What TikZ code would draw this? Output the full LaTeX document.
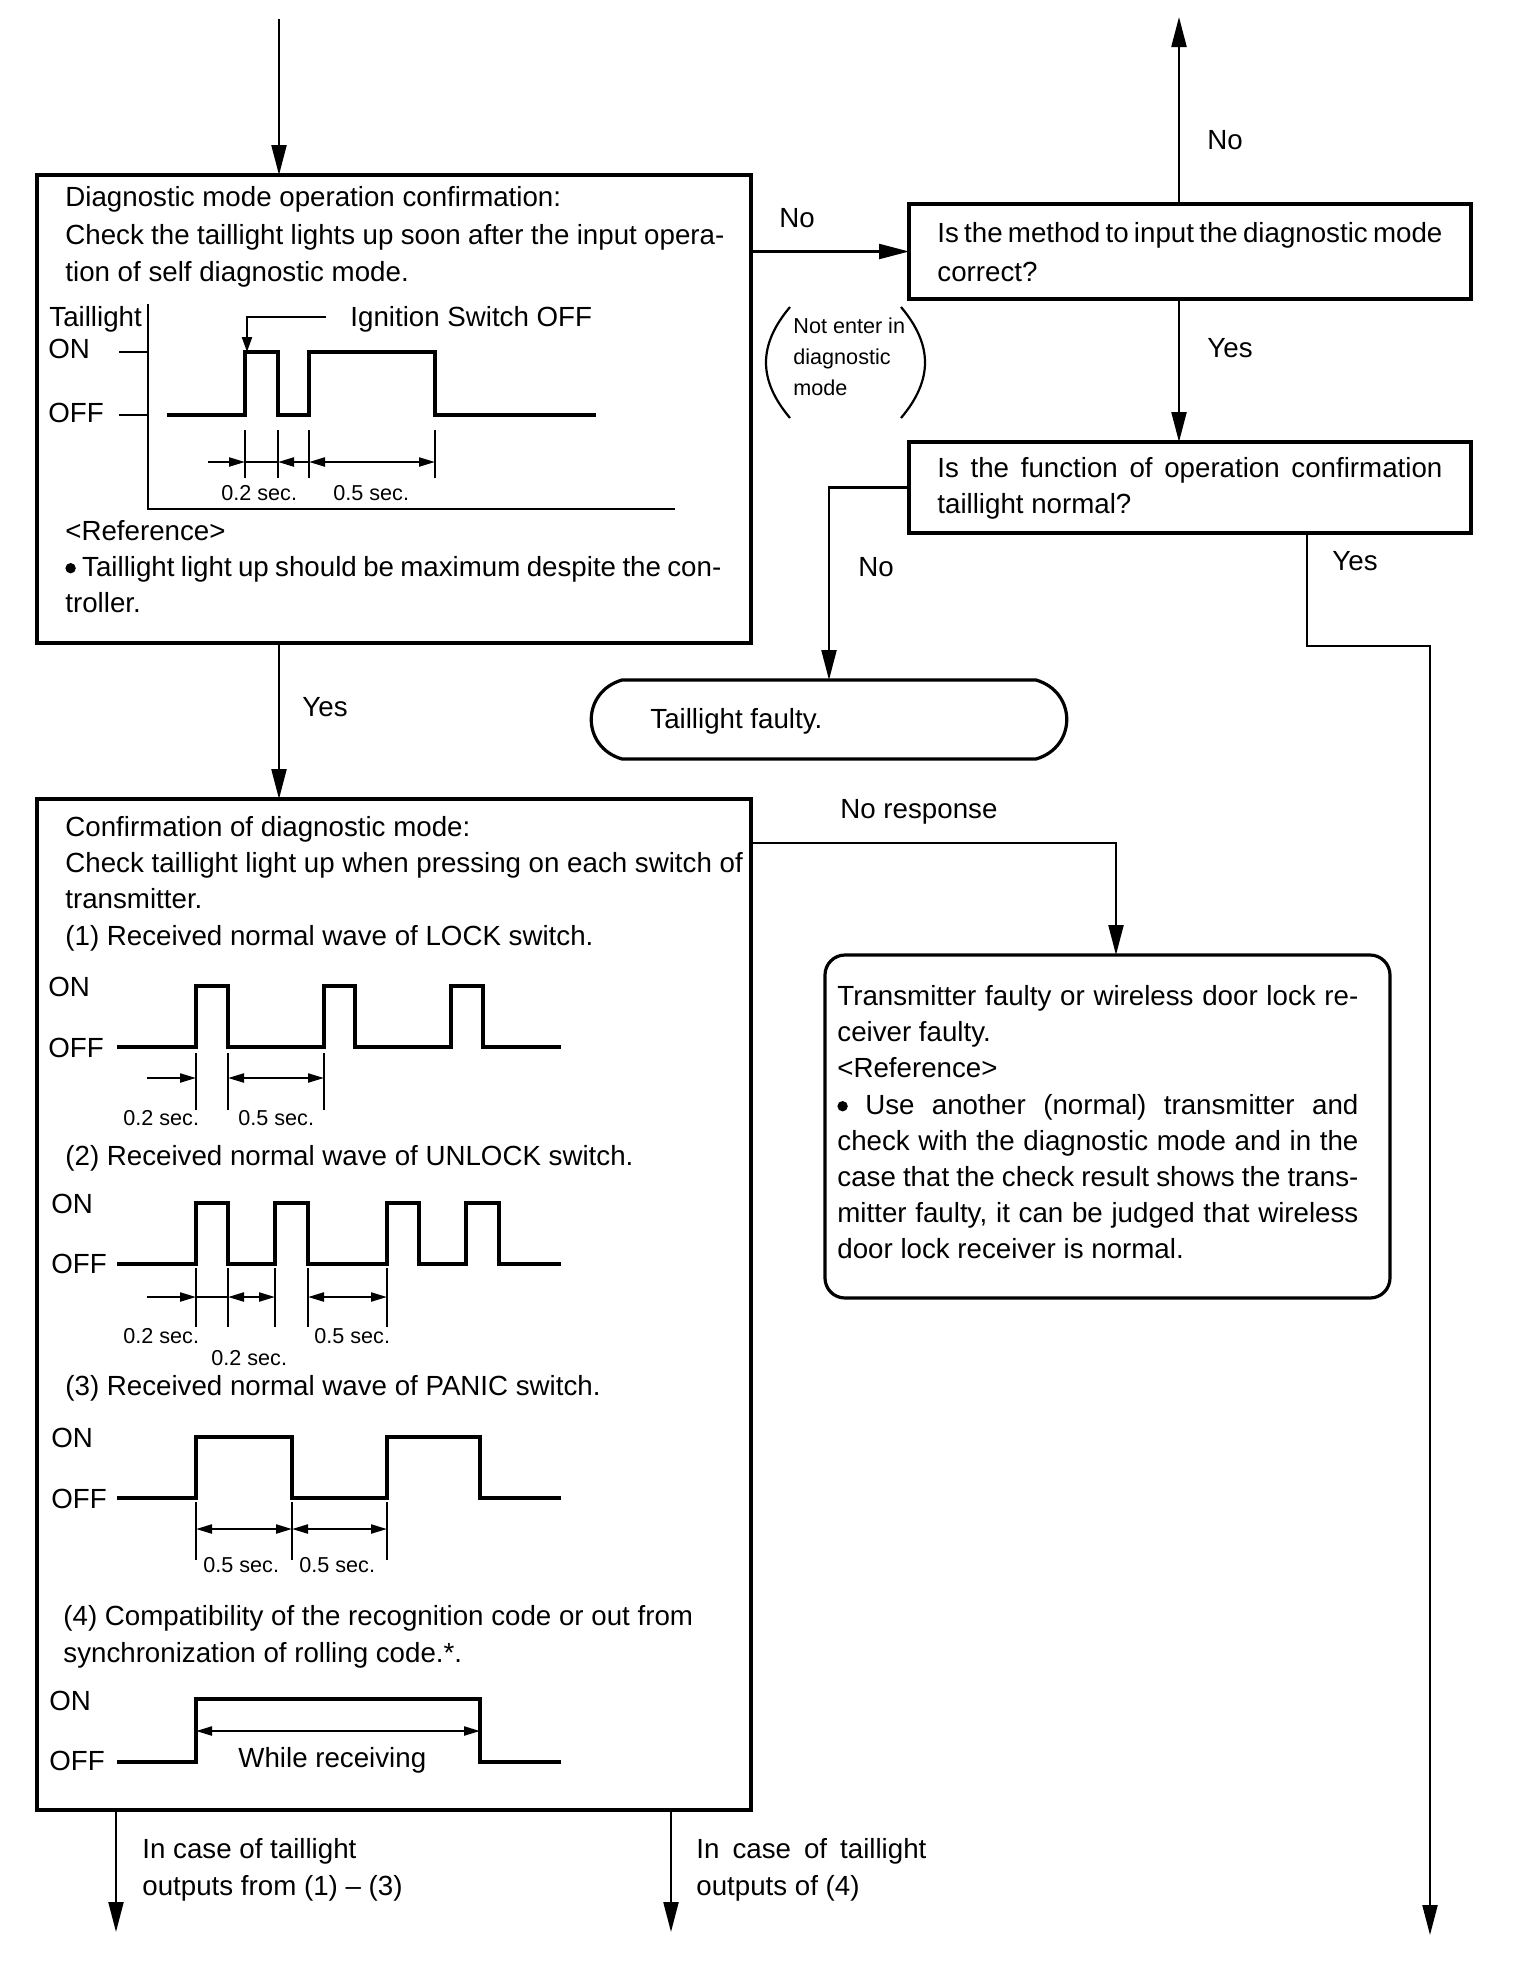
\documentclass[tikz,border=0pt]{standalone}
\usepackage{fontspec}
\setmainfont{Liberation Sans}
\usetikzlibrary{arrows.meta}
\newcommand\mybullet{\tikz[baseline=0pt]\fill (0pt,3.9pt) circle[radius=2.6pt];}
\begin{document}
\begin{tikzpicture}[x=0.5pt,y=-0.5pt,
  box/.style={draw, line width=1.6pt, inner sep=0pt, outer sep=0pt},
  conn/.style={line width=1.1pt, -{Triangle[length=15pt,width=7.5pt]}},
  wave/.style={line width=1.7pt},
  tk/.style={line width=1.1pt},
  dimr/.style={line width=1.1pt, -{Triangle[length=8pt,width=4.5pt]}},
  dimb/.style={line width=1.1pt, {Triangle[length=8pt,width=4.5pt]}-{Triangle[length=8pt,width=4.5pt]}},
  txt/.style={anchor=base west, inner sep=0pt, font=\fontsize{13.85pt}{18pt}\selectfont},
  sml/.style={anchor=base west, inner sep=0pt, font=\fontsize{10.8pt}{14pt}\selectfont}]
\fill[white] (0,0) rectangle (1536,1982);
\useasboundingbox (0,0) rectangle (1536,1982);

% boxes
\node[box, minimum width=357pt, minimum height=234pt] (A) at (394,409) {};
\node[box, minimum width=281pt, minimum height=47.5pt] (B) at (1190,251.5) {};
\node[box, minimum width=281pt, minimum height=45.5pt] (C) at (1190,487.5) {};
\node[box, minimum width=357pt, minimum height=505.5pt] (D) at (394,1304.5) {};
\node[box, rounded corners=10pt, minimum width=282.5pt, minimum height=171.5pt] (E) at (1107.5,1126.5) {};
\node[inner sep=0pt, outer sep=0pt, minimum width=207pt, minimum height=39.5pt] (tf) at (829,719.5) {};
\draw[box] (tf.north west) -- (tf.north east) .. controls +(41,12) and +(41,-12) .. (tf.south east)
  -- (tf.south west) .. controls +(-41,-12) and +(-41,12) .. (tf.north west) -- cycle;

% free ends
\coordinate (in) at (279,19);
\coordinate (upNo) at (1179,17);
\coordinate (yc) at (1307,646);
\coordinate (outR) at (1430,1935);
\coordinate (nr) at (1116,843);
\coordinate (o1) at (116,1932);
\coordinate (o2) at (671,1932);

% connectors
\draw[conn] (in) -- (in |- A.north);
\draw[conn] (A.east |- B.west) -- (B.west);
\draw[conn] (upNo |- B.north) -- (upNo);
\draw[conn] (upNo |- B.south) -- (upNo |- C.north);
\draw[conn] (C.west) -| (tf.north);
\draw[conn] (yc |- C.south) -- (yc) -| (outR);
\draw[conn] (in |- A.south) -- (in |- D.north);
\draw[conn] (D.east |- nr) -| (nr |- E.north);
\draw[conn] (o1 |- D.south) -- (o1);
\draw[conn] (o2 |- D.south) -- (o2);

% connector labels
\node[txt] (lNo1) at (779,227) {No};
\node[txt] (lNoTop) at (1207,149) {No};
\node[txt] (lYes1) at (1207,357) {Yes};
\node[txt] (lNo2) at (858,576) {No};
\node[txt] (lYes2) at (1332,570) {Yes};
\node[txt] (lYes3) at (302,716) {Yes};
\node[txt] (lNR) at (840,818) {No response};
\node[sml] (lNot1) at (793,333) {Not enter in};
\node[sml] (lNot2) at (793,364) {diagnostic};
\node[sml] (lNot3) at (793,395) {mode};
\draw[tk] (790,307) .. controls (758,345) and (758,380) .. (790,418);
\draw[tk] (901,307) .. controls (933,345) and (933,380) .. (901,418);
\node[txt] (lO1a) at (142,1858) {In case of taillight};
\node[txt] (lO1b) at (142,1895) {outputs from (1) -- (3)};
\node[txt] (lO2a) at (696,1858) {\makebox[115pt][s]{In case of taillight}};
\node[txt] (lO2b) at (696,1895) {outputs of (4)};

% box A text
\node[txt] (a1) at (65,206) {Diagnostic mode operation confirmation:};
\node[txt] (a2) at (65,244) {\makebox[329.5pt][s]{Check the taillight lights up soon after the input opera-}};
\node[txt] (a3) at (65,281) {tion of self diagnostic mode.};
\node[txt] (aTl) at (49,326) {Taillight};
\node[txt] (aOn) at (48,358) {ON};
\node[txt] (aOff) at (48,422) {OFF};
\node[txt] (aIg) at (350,326) {Ignition Switch OFF};
\node[sml] (aS1) at (221,500) {0.2 sec.};
\node[sml] (aS2) at (333,500) {0.5 sec.};
\node[txt] (aRef) at (65,540) {<Reference>};
\node[txt] (aB1) at (65,576) {\makebox[328pt][s]{\mybullet\ Taillight light up should be maximum despite the con-}};
\node[txt] (aB2) at (65,612) {troller.};
% graph A
\draw[tk] (148,304) -- (148,509) -- (675,509);
\draw[tk] (119,352) -- (148,352);
\draw[tk] (119,415) -- (148,415);
\draw[wave] (167,415) -- (245,415) |- (278,352) |- (309,415) |- (435,352) |- (596,415);
\draw[line width=1.1pt, -{Triangle[length=7.5pt,width=5pt]}] (326,317) -| (247,352);
\foreach \x in {245,278,309,435} \draw[tk] (\x,430) -- (\x,478);
\draw[dimr] (208,462) -- (245,462);
\draw[tk] (245,462) -- (278,462);
\draw[dimr] (309,462) -- (278,462);
\draw[dimb] (309,462) -- (435,462);

% box B, C text
\node[txt] (b1) at (937,242) {{\spaceskip=0.2em plus 0.2em minus 0.1em\makebox[252.5pt][s]{Is the method to input the diagnostic mode}}};
\node[txt] (b2) at (937,281) {correct?};
\node[txt] (c1) at (937,477) {\makebox[252.5pt][s]{Is the function of operation confirmation}};
\node[txt] (c2) at (937,513) {taillight normal?};
\node[txt] (tfT) at (650,728) {Taillight faulty.};

% box E text
\node[txt] (e1) at (837,1005) {\makebox[260.5pt][s]{Transmitter faulty or wireless door lock re-}};
\node[txt] (e2) at (837,1041) {ceiver faulty.};
\node[txt] (e3) at (837,1077) {<Reference>};
\node[txt] (e4) at (837,1114) {\makebox[260.5pt][s]{\mybullet\ Use another (normal) transmitter and}};
\node[txt] (e5) at (837,1150) {\makebox[260.5pt][s]{check with the diagnostic mode and in the}};
\node[txt] (e6) at (837,1186) {\makebox[260.5pt][s]{case that the check result shows the trans-}};
\node[txt] (e7) at (837,1222) {\makebox[260.5pt][s]{mitter faulty, it can be judged that wireless}};
\node[txt] (e8) at (837,1258) {door lock receiver is normal.};

% box D text
\node[txt] (d1) at (65,836) {Confirmation of diagnostic mode:};
\node[txt] (d2) at (65,872) {Check taillight light up when pressing on each switch of};
\node[txt] (d3) at (65,908) {transmitter.};
\node[txt] (d4) at (65,945) {(1) Received normal wave of LOCK switch.};
\node[txt] (w1on) at (48,996) {ON};
\node[txt] (w1off) at (48,1057) {OFF};
\draw[wave] (117,1047) -- (196,1047) |- (228,986) |- (324,1047) |- (355,986) |- (451,1047) |- (483,986) |- (561,1047);
\foreach \x in {196,228,324} \draw[tk] (\x,1053) -- (\x,1110);
\draw[dimr] (147,1078) -- (196,1078);
\draw[dimb] (228,1078) -- (324,1078);
\node[sml] (w1s1) at (123,1125) {0.2 sec.};
\node[sml] (w1s2) at (238,1125) {0.5 sec.};

\node[txt] (d5) at (65,1165) {(2) Received normal wave of UNLOCK switch.};
\node[txt] (w2on) at (51,1213) {ON};
\node[txt] (w2off) at (51,1273) {OFF};
\draw[wave] (117,1264) -- (196,1264) |- (228,1203) |- (275,1264) |- (308,1203) |- (387,1264) |- (419,1203) |- (466,1264) |- (499,1203) |- (561,1264);
\foreach \x in {196,228,275,308,387} \draw[tk] (\x,1268) -- (\x,1327);
\draw[dimr] (147,1297) -- (196,1297);
\draw[tk] (196,1297) -- (228,1297);
\draw[dimb] (228,1297) -- (275,1297);
\draw[dimb] (308,1297) -- (387,1297);
\node[sml] (w2s1) at (123,1343) {0.2 sec.};
\node[sml] (w2s2) at (211,1365) {0.2 sec.};
\node[sml] (w2s3) at (314,1343) {0.5 sec.};

\node[txt] (d6) at (65,1395) {(3) Received normal wave of PANIC switch.};
\node[txt] (w3on) at (51,1447) {ON};
\node[txt] (w3off) at (51,1508) {OFF};
\draw[wave] (117,1498) -- (196,1498) |- (292,1437) |- (387,1498) |- (480,1437) |- (561,1498);
\foreach \x in {196,292,387} \draw[tk] (\x,1502) -- (\x,1560);
\draw[dimb] (196,1529) -- (292,1529);
\draw[dimb] (292,1529) -- (387,1529);
\node[sml] (w3s1) at (203,1572) {0.5 sec.};
\node[sml] (w3s2) at (299,1572) {0.5 sec.};

\node[txt] (d7) at (63,1625) {(4) Compatibility of the recognition code or out from};
\node[txt] (d8) at (63,1662) {synchronization of rolling code.*.};
\node[txt] (w4on) at (49,1710) {ON};
\node[txt] (w4off) at (49,1770) {OFF};
\draw[wave] (117,1762) -- (196,1762) |- (480,1699) |- (561,1762);
\draw[dimb] (196,1731) -- (480,1731);
\node[txt] (w4t) at (238,1767) {While receiving};
\end{tikzpicture}
\end{document}
